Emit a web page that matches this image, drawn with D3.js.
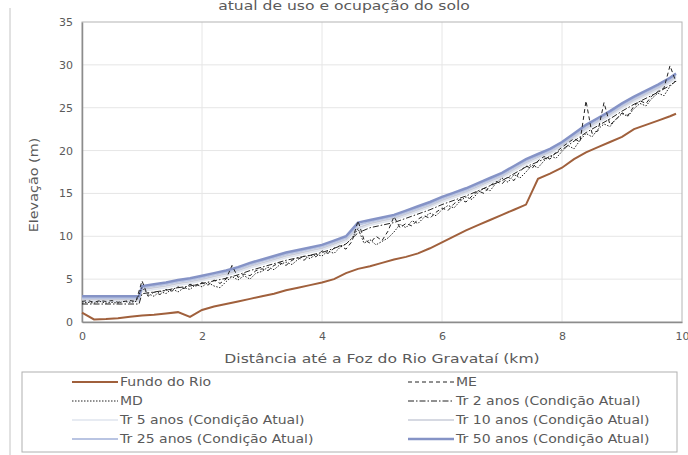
<!DOCTYPE html>
<meta charset="utf-8">
<head>
  <style>
    body { margin: 0; background: #fff; }
    text { font-family: "DejaVu Sans", Verdana, sans-serif; fill: #5a5a5a; }
    .grid line { stroke: #e6e6e6; stroke-width: 1; }
  </style>
  <script src="https://d3js.org/d3.v7.min.js"></script>
</head>
<body>
  <svg width="688" height="455"></svg>
  <script>
    // distancias (km)
    var kmFundo = [0, 0.2, 0.4, 0.6, 0.8, 1.0, 1.2, 1.4, 1.6, 1.8, 2.0, 2.2, 2.4, 2.6, 2.8, 3.0, 3.2, 3.4, 3.6, 3.8,
      4.0, 4.2, 4.4, 4.6, 4.8, 5.0, 5.2, 5.4, 5.6, 5.8, 6.0, 6.2, 6.4, 6.6, 6.8, 7.0, 7.2, 7.4, 7.6, 7.8,
      8.0, 8.2, 8.4, 8.6, 8.8, 9.0, 9.2, 9.4, 9.6, 9.8, 9.9];
    var kmNivel = [0, 0.2, 0.4, 0.6, 0.8, 0.95, 1.0, 1.2, 1.4, 1.6, 1.8, 2.0, 2.2, 2.4, 2.6, 2.8, 3.0, 3.2, 3.4, 3.6, 3.8,
      4.0, 4.2, 4.4, 4.6, 4.8, 5.0, 5.2, 5.4, 5.6, 5.8, 6.0, 6.2, 6.4, 6.6, 6.8, 7.0, 7.2, 7.4, 7.6, 7.8,
      8.0, 8.2, 8.4, 8.6, 8.8, 9.0, 9.2, 9.4, 9.6, 9.8, 9.9];
    var kmMargem = [0, 0.1, 0.2, 0.3, 0.4, 0.5, 0.6, 0.7, 0.8, 0.9, 1.0, 1.1, 1.2, 1.3, 1.4, 1.5, 1.6, 1.7, 1.8, 1.9,
      2.0, 2.1, 2.2, 2.3, 2.4, 2.5, 2.6, 2.7, 2.8, 2.9, 3.0, 3.1, 3.2, 3.3, 3.4, 3.5, 3.6, 3.7, 3.8, 3.9,
      4.0, 4.1, 4.2, 4.3, 4.4, 4.5, 4.6, 4.7, 4.8, 4.9, 5.0, 5.1, 5.2, 5.3, 5.4, 5.5, 5.6, 5.7, 5.8, 5.9,
      6.0, 6.1, 6.2, 6.3, 6.4, 6.5, 6.6, 6.7, 6.8, 6.9, 7.0, 7.1, 7.2, 7.3, 7.4, 7.5, 7.6, 7.7, 7.8, 7.9,
      8.0, 8.1, 8.2, 8.3, 8.4, 8.5, 8.6, 8.7, 8.8, 8.9, 9.0, 9.1, 9.2, 9.3, 9.4, 9.5, 9.6, 9.7, 9.8, 9.9];

    // elevacoes (m)
    var fundoRio = [1.1, 0.3, 0.35, 0.45, 0.6, 0.75, 0.85, 1.0, 1.15, 0.6, 1.4, 1.8, 2.1, 2.4, 2.7, 3.0, 3.3, 3.7, 4.0, 4.3,
      4.6, 5.0, 5.7, 6.2, 6.5, 6.9, 7.3, 7.6, 8.0, 8.6, 9.3, 10.0, 10.7, 11.3, 11.9, 12.5, 13.1, 13.7, 16.7, 17.3,
      18.0, 19.0, 19.8, 20.4, 21.0, 21.6, 22.5, 23.0, 23.5, 24.0, 24.3];

    var me = [2.4, 2.5, 2.3, 2.5, 2.4, 2.5, 2.3, 2.4, 2.5, 2.4, 4.8, 3.0, 3.5, 3.2, 3.8, 3.6, 4.1, 3.9, 4.4, 4.2,
      4.6, 4.3, 4.9, 4.5, 5.0, 6.6, 5.2, 5.6, 5.4, 6.0, 6.2, 6.0, 6.6, 6.9, 6.6, 7.2, 7.5, 7.2, 7.8, 7.6,
      8.3, 8.0, 8.6, 8.9, 8.5, 9.4, 11.8, 9.6, 9.2, 10.0, 9.5, 10.6, 12.3, 11.0, 11.5, 11.2, 12.0, 12.4, 12.1, 12.8,
      13.3, 13.0, 13.8, 14.3, 14.0, 14.7, 15.3, 15.0, 15.9, 16.4, 16.1, 16.9, 16.5, 17.6, 18.2, 17.9, 18.8, 19.3, 19.0, 19.8,
      20.4, 20.9, 21.4, 21.0, 25.8, 22.0, 22.3, 25.6, 23.0, 23.6, 24.4, 24.1, 25.2, 25.8, 25.5, 26.4, 26.9, 27.3, 29.9, 28.0];

    var md = [2.2, 2.3, 2.2, 2.4, 2.2, 2.3, 2.2, 2.4, 2.3, 2.4, 4.0, 3.3, 3.0, 3.6, 3.3, 3.9, 3.5, 4.0, 3.8, 4.4,
      4.1, 4.6, 4.2, 4.0, 4.7, 5.3, 4.9, 5.4, 5.0, 5.7, 5.9, 6.4, 6.1, 6.7, 7.0, 6.7, 7.3, 7.7, 7.4, 7.9,
      7.7, 8.3, 8.0, 8.7, 9.1, 9.8, 10.9, 9.2, 9.6, 9.0, 9.4, 9.8, 10.5, 11.4, 11.0, 11.8, 11.5, 12.2, 12.7, 12.4,
      13.1, 13.6, 13.3, 14.1, 14.6, 14.3, 15.1, 15.6, 15.3, 16.2, 16.8, 16.3, 17.2, 16.8, 17.5, 18.3, 18.0, 18.8, 19.4, 19.1,
      19.9, 20.6, 20.2, 21.2, 22.0, 21.6, 22.5, 23.1, 22.8, 23.7, 24.3, 24.0, 24.9, 25.5, 25.2, 26.1, 26.7, 26.4, 27.5, 28.2];

    var tr2 = [2.1, 2.1, 2.1, 2.1, 2.1, 2.1, 3.3, 3.5, 3.7, 4.0, 4.2, 4.5, 4.8, 5.1, 5.5, 6.0, 6.4, 6.8, 7.2, 7.5, 7.8,
      8.1, 8.6, 9.1, 10.4, 11.0, 11.3, 11.6, 12.1, 12.6, 13.1, 13.7, 14.2, 14.7, 15.3, 15.9, 16.5, 17.3, 18.1, 18.7, 19.3,
      20.1, 21.1, 22.1, 22.9, 23.7, 24.6, 25.4, 26.1, 26.8, 27.6, 28.1];
    var tr5 = [2.4, 2.4, 2.4, 2.4, 2.4, 2.4, 3.6, 3.8, 4.0, 4.3, 4.5, 4.8, 5.1, 5.4, 5.8, 6.3, 6.7, 7.1, 7.5, 7.8, 8.1,
      8.4, 8.9, 9.4, 10.8, 11.3, 11.6, 11.9, 12.4, 12.9, 13.4, 14.0, 14.5, 15.0, 15.6, 16.2, 16.8, 17.6, 18.4, 19.0, 19.6,
      20.4, 21.4, 22.4, 23.2, 24.0, 24.9, 25.7, 26.4, 27.1, 27.9, 28.4];
    var tr10 = [2.6, 2.6, 2.6, 2.6, 2.6, 2.6, 3.8, 4.0, 4.2, 4.5, 4.7, 5.0, 5.3, 5.6, 6.0, 6.5, 6.9, 7.3, 7.7, 8.0, 8.3,
      8.6, 9.1, 9.6, 11.0, 11.5, 11.8, 12.1, 12.6, 13.1, 13.6, 14.2, 14.7, 15.2, 15.8, 16.4, 17.0, 17.8, 18.6, 19.2, 19.8,
      20.6, 21.6, 22.6, 23.4, 24.2, 25.1, 25.9, 26.6, 27.3, 28.1, 28.6];
    var tr25 = [2.8, 2.8, 2.8, 2.8, 2.8, 2.8, 4.0, 4.2, 4.4, 4.7, 4.9, 5.2, 5.5, 5.8, 6.2, 6.7, 7.1, 7.5, 7.9, 8.2, 8.5,
      8.8, 9.3, 9.8, 11.3, 11.7, 12.0, 12.3, 12.8, 13.3, 13.8, 14.4, 14.9, 15.4, 16.0, 16.6, 17.2, 18.0, 18.8, 19.4, 20.0,
      20.8, 21.8, 22.8, 23.6, 24.4, 25.3, 26.1, 26.8, 27.5, 28.3, 28.8];
    var tr50 = [3.0, 3.0, 3.0, 3.0, 3.0, 3.0, 4.2, 4.4, 4.6, 4.9, 5.1, 5.4, 5.7, 6.0, 6.4, 6.9, 7.3, 7.7, 8.1, 8.4, 8.7,
      9.0, 9.5, 10.0, 11.6, 11.9, 12.2, 12.5, 13.0, 13.5, 14.0, 14.6, 15.1, 15.6, 16.2, 16.8, 17.4, 18.2, 19.0, 19.6, 20.2,
      21.0, 22.0, 23.0, 23.8, 24.6, 25.5, 26.3, 27.0, 27.7, 28.5, 29.0];

    var xTicks = [0, 2, 4, 6, 8, 10];
    var yTicks = [0, 5, 10, 15, 20, 25, 30, 35];

    var series = [
      { name: "Tr 5 anos (Condição Atual)", km: kmNivel, v: tr5, color: "#dfe4ee", width: 1.5, dash: null },
      { name: "Tr 10 anos (Condição Atual)", km: kmNivel, v: tr10, color: "#c9ccd8", width: 1.5, dash: null },
      { name: "Tr 25 anos (Condição Atual)", km: kmNivel, v: tr25, color: "#b9c4e2", width: 2, dash: null },
      { name: "Tr 50 anos (Condição Atual)", km: kmNivel, v: tr50, color: "#8593c6", width: 2.5, dash: null },
      { name: "Tr 2 anos (Condição Atual)", km: kmNivel, v: tr2, color: "#222", width: 1, dash: "6,2,1.5,2" },
      { name: "ME", km: kmMargem, v: me, color: "#222", width: 1, dash: "4,3" },
      { name: "MD", km: kmMargem, v: md, color: "#222", width: 1, dash: "1.5,1.5" },
      { name: "Fundo do Rio", km: kmFundo, v: fundoRio, color: "#a0603c", width: 2, dash: null }
    ];

    var svg = d3.select("svg");
    var x = d3.scaleLinear().domain([0, 10]).range([82, 682]);
    var y = d3.scaleLinear().domain([0, 35]).range([322, 22]);

    // texto um pouco esticado na horizontal, como na figura original
    function label(px, py, size, txt, rot) {
      return svg.append("text")
        .attr("transform", "translate(" + px + "," + py + ")" + (rot ? " rotate(" + rot + ")" : "") + " scale(1.2,1)")
        .attr("text-anchor", "middle").style("font-size", size + "px").text(txt);
    }

    // linha vertical a esquerda e titulo cortado
    svg.append("line").attr("x1", 10).attr("x2", 10).attr("y1", 8).attr("y2", 455)
      .attr("stroke", "#c4c4c4");
    label(344, 10, 13, "atual de uso e ocupação do solo");

    // grades
    svg.append("g").attr("class", "grid")
      .selectAll("line").data(yTicks.slice(1, -1)).enter().append("line")
      .attr("x1", x(0)).attr("x2", x(10)).attr("y1", d => y(d)).attr("y2", d => y(d));
    svg.append("g").attr("class", "grid")
      .selectAll("line").data(xTicks.slice(1, -1)).enter().append("line")
      .attr("y1", y(0)).attr("y2", y(35)).attr("x1", d => x(d)).attr("x2", d => x(d));

    svg.append("rect").attr("x", x(0)).attr("y", y(35))
      .attr("width", x(10) - x(0)).attr("height", y(0) - y(35))
      .attr("fill", "none").attr("stroke", "#b4b4b4");

    // eixos
    var yAxis = svg.append("g").attr("transform", "translate(" + x(0) + ",0)")
      .call(d3.axisLeft(y).tickValues(yTicks).tickSize(0).tickPadding(9));
    var xAxis = svg.append("g").attr("transform", "translate(0," + y(0) + ")")
      .call(d3.axisBottom(x).tickValues(xTicks).tickSize(0).tickPadding(10));
    [xAxis, yAxis].forEach(function (a) {
      a.select(".domain").attr("stroke", "#8c8c8c").attr("stroke-width", 1.5);
      a.selectAll("text").style("font-size", "11px").style("fill", "#5a5a5a")
        .style("font-family", "'DejaVu Sans', sans-serif");
    });

    label(38, 185, 12, "Elevação (m)", -90);
    label(382, 363, 13, "Distância até a Foz do Rio Gravataí (km)");

    // curvas
    var line = d3.line().x(d => x(d[0])).y(d => y(d[1]));
    series.forEach(function (s) {
      svg.append("path")
        .datum(s.km.map((k, i) => [k, s.v[i]]))
        .attr("d", line)
        .attr("fill", "none")
        .attr("stroke", s.color)
        .attr("stroke-width", s.width)
        .attr("stroke-dasharray", s.dash);
    });

    // legenda
    svg.append("rect").attr("x", 22).attr("y", 372).attr("width", 655).attr("height", 80)
      .attr("fill", "none").attr("stroke", "#b0b0b0");
    var legendOrder = ["Fundo do Rio", "ME", "MD", "Tr 2 anos (Condição Atual)",
      "Tr 5 anos (Condição Atual)", "Tr 10 anos (Condição Atual)",
      "Tr 25 anos (Condição Atual)", "Tr 50 anos (Condição Atual)"];
    var leg = svg.append("g").selectAll("g")
      .data(legendOrder.map(n => series.find(s => s.name === n)))
      .enter().append("g")
      .attr("transform", (d, i) => "translate(" + (i % 2 ? 408 : 72) + "," + (382 + Math.floor(i / 2) * 19) + ")");
    leg.append("line").attr("x1", 0).attr("x2", 46)
      .attr("stroke", d => d.color).attr("stroke-width", d => d.width)
      .attr("stroke-dasharray", d => d.dash);
    leg.append("text").attr("transform", "translate(48,0) scale(1.17,1)").attr("dy", "0.35em")
      .style("font-size", "12px").text(d => d.name);
  </script>
</body>
